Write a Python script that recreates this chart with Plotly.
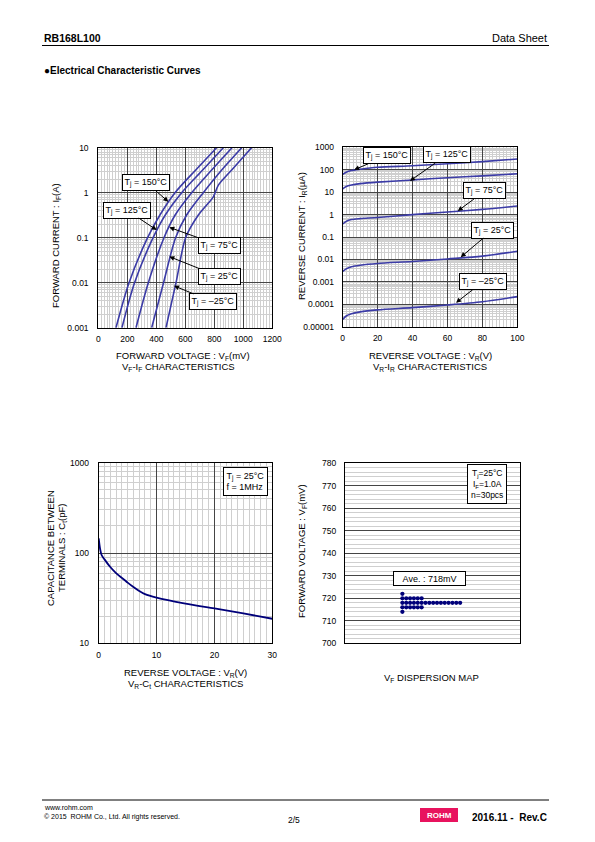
import plotly.graph_objects as go

# ---------------- data ----------------
# Chart 1: VF-IF characteristics (VF in mV, IF in A)
vf_if_current = [0.001, 0.01, 0.1, 0.32, 1, 3.2, 10]
vf_150 = [122, 212, 340, 425, 529, 672, 816]
vf_125 = [163, 250, 378, 462, 575, 720, 862]
vf_75 = [260, 345, 453, 530, 644, 782, 922]
vf_25 = [368, 450, 533, 609, 724, 851, 989]
vf_m25_current = [0.001, 0.01, 0.1, 0.32, 0.81, 1.47, 3.2, 10]
vf_m25 = [467, 536, 602, 690, 793, 828, 920, 1057]

# Chart 2: VR-IR characteristics (VR in V, IR in uA)
vr_ir_voltage = [0, 2, 5, 10, 20, 40, 60, 80, 100]
ir_150 = [62, 77, 92, 105, 128, 150, 185, 230, 300]
ir_125 = [14, 18, 21, 24, 28, 35, 44, 53, 66]
ir_75 = [0.38, 0.5, 0.6, 0.66, 0.74, 1.0, 1.3, 1.7, 2.4]
ir_25 = [0.0029, 0.0038, 0.0047, 0.0055, 0.0066, 0.0081, 0.0105, 0.0140, 0.023]
ir_m25 = [2.1e-5, 3.0e-5, 3.8e-5, 4.6e-5, 5.6e-5, 7.1e-5, 9.3e-5, 1.3e-4, 2.2e-4]

# Chart 3: VR-Ct characteristics (VR in V, Ct in pF)
ct_voltage = [0, 0.25, 0.5, 1, 2, 3, 4, 5, 6, 7, 8, 10, 15, 20, 25, 30]
ct_pf = [145, 110, 95, 85, 70, 60, 53, 47, 42, 38, 35, 32, 27.5, 24.3, 21.4, 18.7]

# Chart 4: VF dispersion (mV), n = 30
vf_dispersion = [722] + [720] * 6 + [718] * 16 + [716] * 6 + [714]
vf_average = 718

# tick labels
if_ticks = [0.001, 0.01, 0.1, 1, 10]
if_ticktext = ["0.001", "0.01", "0.1", "1", "10"]
ir_ticks = [1e-5, 1e-4, 1e-3, 1e-2, 1e-1, 1, 10, 100, 1000]
ir_ticktext = ["0.00001", "0.0001", "0.001", "0.01", "0.1", "1", "10", "100", "1000"]
ct_ticks = [10, 100, 1000]
ct_ticktext = ["10", "100", "1000"]

# ---------------- layout helpers ----------------
W, H = 595, 842
FONT = "Liberation Sans, Arial, sans-serif"


def px(x):
    return x / W


def py(y):
    return 1 - y / H


CURVE = "#3b3ba6"
NAVY = "#00007a"
MAJOR = "#454545"
MINOR = "#cfcfcf"

fig = go.Figure()

# chart 1 traces
for v, i in [(vf_150, vf_if_current), (vf_125, vf_if_current), (vf_75, vf_if_current),
             (vf_25, vf_if_current), (vf_m25, vf_m25_current)]:
    fig.add_trace(go.Scatter(x=v, y=i, mode="lines", line=dict(color=CURVE, width=1.6, shape="spline", smoothing=0.8),
                             xaxis="x", yaxis="y", showlegend=False, hoverinfo="skip"))

# chart 2 traces
for i in [ir_150, ir_125, ir_75, ir_25, ir_m25]:
    fig.add_trace(go.Scatter(x=vr_ir_voltage, y=i, mode="lines",
                             line=dict(color=CURVE, width=1.6, shape="spline", smoothing=0.8),
                             xaxis="x2", yaxis="y2", showlegend=False, hoverinfo="skip"))

# chart 3 trace
fig.add_trace(go.Scatter(x=ct_voltage, y=ct_pf, mode="lines",
                         line=dict(color=NAVY, width=1.8, shape="spline", smoothing=0.8),
                         xaxis="x3", yaxis="y3", showlegend=False, hoverinfo="skip"))

# chart 4 trace: dots stacked horizontally per value
counts = {}
dot_x = []
for v in vf_dispersion:
    k = counts.get(v, 0)
    dot_x.append(k)
    counts[v] = k + 1
fig.add_trace(go.Scatter(x=dot_x, y=vf_dispersion, mode="markers",
                         marker=dict(color=NAVY, size=4.3),
                         xaxis="x4", yaxis="y4", showlegend=False, hoverinfo="skip"))

tickfont = dict(family=FONT, size=8.5, color="black")


def lin_axis(domain, rng, dtick, minor_dtick, anchor, showlabels=True, standoff=3):
    return dict(domain=domain, range=rng, dtick=dtick, tick0=rng[0],
                showgrid=True, gridcolor=MAJOR, gridwidth=1,
                minor=dict(dtick=minor_dtick, showgrid=True, gridcolor=MINOR, gridwidth=1),
                showline=True, linecolor="black", linewidth=1, mirror=True,
                zeroline=False, anchor=anchor, tickfont=tickfont, showticklabels=showlabels,
                ticks="", ticklabelstandoff=standoff, fixedrange=True)


def log_axis(domain, rng, tickvals, ticktext, anchor, standoff=6):
    return dict(domain=domain, type="log", range=rng, tickmode="array", tickvals=tickvals, ticktext=ticktext,
                showgrid=True, gridcolor=MAJOR, gridwidth=1,
                minor=dict(dtick="D1", showgrid=True, gridcolor=MINOR, gridwidth=1),
                showline=True, linecolor="black", linewidth=1, mirror=True,
                zeroline=False, anchor=anchor, tickfont=tickfont,
                ticks="", ticklabelstandoff=standoff, fixedrange=True)


layout = dict(
    autosize=True, margin=dict(l=0, r=0, t=0, b=0, autoexpand=False),
    paper_bgcolor="white", plot_bgcolor="white", showlegend=False,
    font=dict(family=FONT, color="black"),
    xaxis=lin_axis([px(98.3), px(272.3)], [0, 1200], 200, 20, "y"),
    yaxis=log_axis([py(327.7), py(147.7)], [-3, 1], if_ticks, if_ticktext, "x", 7),
    xaxis2=lin_axis([px(342.7), px(517.3)], [0, 100], 20, 2, "y2"),
    yaxis2=log_axis([py(326.7), py(147.3)], [-5, 3], ir_ticks, ir_ticktext, "x2", 6),
    xaxis3=lin_axis([px(98.7), px(272.3)], [0, 30], 10, 1, "y3"),
    yaxis3=log_axis([py(643.3), py(462.7)], [1, 3], ct_ticks, ct_ticktext, "x3", 7),
    xaxis4=lin_axis([px(345), px(520)], [-14.9, 30.55], 100, 100, "y4", showlabels=False),
    yaxis4=lin_axis([py(643.3), py(463.3)], [700, 780], 10, 2, "x4", standoff=6),
)
layout["xaxis4"]["showgrid"] = False
layout["xaxis4"]["minor"] = dict(showgrid=False)
fig.update_layout(**layout)

ann = []


def text(x, y, s, size=9.5, anchor="center", bold=False, angle=0, color="black", yanchor="middle"):
    ann.append(dict(x=px(x), y=py(y), xref="paper", yref="paper", text=(f"<b>{s}</b>" if bold else s),
                    showarrow=False, xanchor=anchor, yanchor=yanchor, textangle=angle,
                    font=dict(family=FONT, size=size, color=color)))


# header / footer
text(42, 38.5, "RB168L100", size=10.5, anchor="left", bold=True)
text(549, 38.5, "Data Sheet", size=11, anchor="right")
text(42, 71, "●Electrical Characteristic Curves", size=10, anchor="left", bold=True)
text(42, 807.5, "www.rohm.com", size=7, anchor="left")
text(42, 816.5, "© 2015  ROHM Co., Ltd. All rights reserved.", size=7, anchor="left")
text(293.5, 820, "2/5", size=8.5)
text(549, 817, "2016.11 -  Rev.C", size=10, anchor="right", bold=True)
text(439, 815, "ROHM", size=8, bold=True, color="white")

# chart 1 titles
text(56, 246, "FORWARD CURRENT : I<sub>F</sub>(A)", size=9.5, angle=-90)
text(183, 355.5, "FORWARD VOLTAGE : V<sub>F</sub>(mV)", size=9.5)
text(178, 367, "V<sub>F</sub>-I<sub>F</sub> CHARACTERISTICS", size=9.5)
# chart 2 titles
text(302, 236, "REVERSE CURRENT : I<sub>R</sub>(µA)", size=9.5, angle=-90)
text(430, 355.5, "REVERSE VOLTAGE : V<sub>R</sub>(V)", size=9.5)
text(430, 367, "V<sub>R</sub>-I<sub>R</sub> CHARACTERISTICS", size=9.5)
# chart 3 titles
text(50, 548, "CAPACITANCE BETWEEN", size=9.5, angle=-90)
text(62, 548, "TERMINALS : C<sub>t</sub>(pF)", size=9.5, angle=-90)
text(185, 672.5, "REVERSE VOLTAGE : V<sub>R</sub>(V)", size=9.5)
text(185, 684, "V<sub>R</sub>-C<sub>t</sub> CHARACTERISTICS", size=9.5)
# chart 4 titles
text(302, 551, "FORWARD VOLTAGE : V<sub>F</sub>(mV)", size=9.5, angle=-90)
text(431, 678, "V<sub>F</sub> DISPERSION MAP", size=9.5)


def callout(xref, yref, x, y, s, ax, ay, size=9):
    ann.append(dict(x=x, y=y, xref=xref, yref=yref, text=s, showarrow=True, ax=ax, ay=ay,
                    arrowhead=2, arrowsize=1, arrowwidth=1, arrowcolor="black", standoff=0,
                    bgcolor="white", bordercolor="black", borderwidth=1, borderpad=1.5,
                    font=dict(family=FONT, size=size, color="black")))


# chart 1 callouts (x in mV, y in log10 A)
callout("x", "y", 483, -0.20, "T<sub>j</sub> = 150°C", -22, -19)
callout("x", "y", 403, -0.83, "T<sub>j</sub> = 125°C", -30, -20)
callout("x", "y", 490, -0.77, "T<sub>j</sub> = 75°C", 50, 18)
callout("x", "y", 490, -1.42, "T<sub>j</sub> = 25°C", 50, 20)
callout("x", "y", 522, -2.07, "T<sub>j</sub> = –25°C", 39, 16)
# chart 2 callouts
callout("x2", "y2", 6.6, 2.0, "T<sub>j</sub> = 150°C", 33, -14)
callout("x2", "y2", 38.5, 1.50, "T<sub>j</sub> = 125°C", 37, -26)
callout("x2", "y2", 65.9, 0.16, "T<sub>j</sub> = 75°C", 27, -20)
callout("x2", "y2", 67.6, -1.90, "T<sub>j</sub> = 25°C", 32, -27)
callout("x2", "y2", 64.9, -3.93, "T<sub>j</sub> = –25°C", 27, -21)


def boxed(x, y, s, size=9, align="center", pad=2):
    ann.append(dict(x=px(x), y=py(y), xref="paper", yref="paper", text=s, showarrow=False,
                    xanchor="center", yanchor="middle", align=align,
                    bgcolor="white", bordercolor="black", borderwidth=1, borderpad=pad,
                    font=dict(family=FONT, size=size, color="black")))


boxed(245.5, 481, "T<sub>j</sub> = 25°C<br>f = 1MHz", size=9, align="left", pad=2.5)
boxed(487, 483.5, "T<sub>j</sub>=25°C<br>I<sub>F</sub>=1.0A<br>n=30pcs", size=8.5, pad=3)
ann.append(dict(x=px(429.4), y=vf_average + 11, xref="paper", yref="y4", showarrow=False,
                text=f"Ave. : {vf_average}mV", bgcolor="white", bordercolor="black", borderwidth=1,
                borderpad=1.5, width=68, xanchor="center", yanchor="middle",
                font=dict(family=FONT, size=9, color="black")))

shapes = [
    dict(type="line", xref="paper", yref="paper", x0=px(42), x1=px(549), y0=py(45.5), y1=py(45.5),
         line=dict(color="black", width=1)),
    dict(type="line", xref="paper", yref="paper", x0=px(42), x1=px(549), y0=py(800), y1=py(800),
         line=dict(color="black", width=1)),
    dict(type="rect", xref="paper", yref="paper", x0=px(420), x1=px(458), y0=py(822), y1=py(808),
         fillcolor="#e8135e", line=dict(width=0), layer="below"),
]

fig.update_layout(annotations=ann, shapes=shapes)
fig.write_html("out.html", default_width="100vw", default_height="100vh",
               config={"displayModeBar": False, "responsive": True},
               post_script="document.body.style.margin='0';document.body.style.padding='0';"
                           "document.documentElement.style.overflow='hidden';"
                           "var d=document.getElementById('{plot_id}');d.style.position='fixed';"
                           "d.style.left='0px';d.style.top='0px';"
                           "d.style.width='100vw';d.style.height='100vh';"
                           "Plotly.Plots.resize(d);")
